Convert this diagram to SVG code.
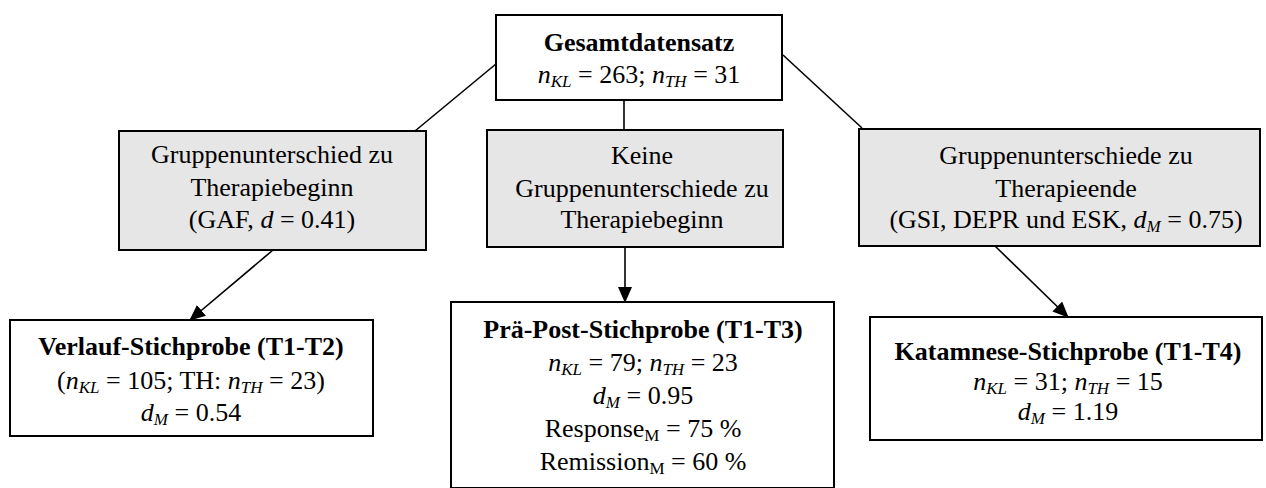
<svg xmlns="http://www.w3.org/2000/svg" width="1266" height="488" viewBox="0 0 1266 488" font-family="Liberation Serif, Times New Roman, serif">
<defs>
<marker id="arr" markerWidth="16" markerHeight="14" refX="15" refY="7" orient="auto" markerUnits="userSpaceOnUse" viewBox="0 0 16 14"><path d="M0,0 L16,7 L0,14 z" fill="#000"/></marker>
</defs>
<style>
text{font-size:26px;fill:#000;text-anchor:middle}
.b{font-weight:bold}
.i{font-style:italic}
.s{font-size:17px}
.box{fill:#fff;stroke:#000;stroke-width:2}
.gbox{fill:#e6e6e6;stroke:#000;stroke-width:2}
.c{stroke:#000;stroke-width:1.6;fill:none}
</style>
<rect width="1266" height="488" fill="#fff"/>
<g id="connectors">
<line class="c" x1="502" y1="59" x2="415" y2="131"/>
<line class="c" x1="624" y1="100" x2="624" y2="130"/>
<line class="c" x1="783" y1="55" x2="862" y2="128"/>
<line class="c" x1="273" y1="250" x2="190" y2="320" marker-end="url(#arr)"/>
<line class="c" x1="625" y1="247" x2="625" y2="302" marker-end="url(#arr)"/>
<line class="c" x1="995" y1="246" x2="1068" y2="317" marker-end="url(#arr)"/>
</g>
<g id="gesamt">
<rect class="box" x="496" y="15" width="286" height="85"/>
<text class="b" x="639" y="51">Gesamtdatensatz</text>
<text x="639" y="83"><tspan class="i">n</tspan><tspan class="i s" dy="4">KL</tspan><tspan dy="-4"> = 263; </tspan><tspan class="i">n</tspan><tspan class="i s" dy="4">TH</tspan><tspan dy="-4"> = 31</tspan></text>
</g>
<g id="gruppe-beginn">
<rect class="gbox" x="119" y="131" width="307" height="119"/>
<text x="272" y="163">Gruppenunterschied zu</text>
<text x="272" y="196">Therapiebeginn</text>
<text x="272" y="228">(GAF, <tspan class="i">d</tspan> = 0.41)</text>
</g>
<g id="keine">
<rect class="gbox" x="487" y="130" width="296" height="117"/>
<text x="642" y="164">Keine</text>
<text x="642" y="197">Gruppenunterschiede zu</text>
<text x="642" y="228">Therapiebeginn</text>
</g>
<g id="gruppe-ende">
<rect class="gbox" x="859" y="129" width="401" height="117"/>
<text x="1066" y="164">Gruppenunterschiede zu</text>
<text x="1066" y="197">Therapieende</text>
<text x="1066" y="228">(GSI, DEPR und ESK, <tspan class="i">d</tspan><tspan class="i s" dy="4">M</tspan><tspan dy="-4"> = 0.75)</tspan></text>
</g>
<g id="verlauf">
<rect class="box" x="10" y="320" width="363" height="116"/>
<text class="b" x="191" y="355">Verlauf-Stichprobe (T1-T2)</text>
<text x="191" y="389">(<tspan class="i">n</tspan><tspan class="i s" dy="4">KL</tspan><tspan dy="-4"> = 105; TH: </tspan><tspan class="i">n</tspan><tspan class="i s" dy="4">TH</tspan><tspan dy="-4"> = 23)</tspan></text>
<text x="191" y="421"><tspan class="i">d</tspan><tspan class="i s" dy="4">M</tspan><tspan dy="-4"> = 0.54</tspan></text>
</g>
<g id="praepost">
<rect class="box" x="451" y="302" width="383" height="186"/>
<text class="b" x="643" y="338">Prä-Post-Stichprobe (T1-T3)</text>
<text x="643" y="371"><tspan class="i">n</tspan><tspan class="i s" dy="4">KL</tspan><tspan dy="-4"> = 79; </tspan><tspan class="i">n</tspan><tspan class="i s" dy="4">TH</tspan><tspan dy="-4"> = 23</tspan></text>
<text x="643" y="404"><tspan class="i">d</tspan><tspan class="i s" dy="4">M</tspan><tspan dy="-4"> = 0.95</tspan></text>
<text x="643" y="437">Response<tspan class="s" dy="4">M</tspan><tspan dy="-4"> = 75 %</tspan></text>
<text x="643" y="470">Remission<tspan class="s" dy="4">M</tspan><tspan dy="-4"> = 60 %</tspan></text>
</g>
<g id="katamnese">
<rect class="box" x="870" y="317" width="392" height="123"/>
<text class="b" x="1068" y="360">Katamnese-Stichprobe (T1-T4)</text>
<text x="1068" y="390"><tspan class="i">n</tspan><tspan class="i s" dy="4">KL</tspan><tspan dy="-4"> = 31; </tspan><tspan class="i">n</tspan><tspan class="i s" dy="4">TH</tspan><tspan dy="-4"> = 15</tspan></text>
<text x="1068" y="420"><tspan class="i">d</tspan><tspan class="i s" dy="4">M</tspan><tspan dy="-4"> = 1.19</tspan></text>
</g>
</svg>
